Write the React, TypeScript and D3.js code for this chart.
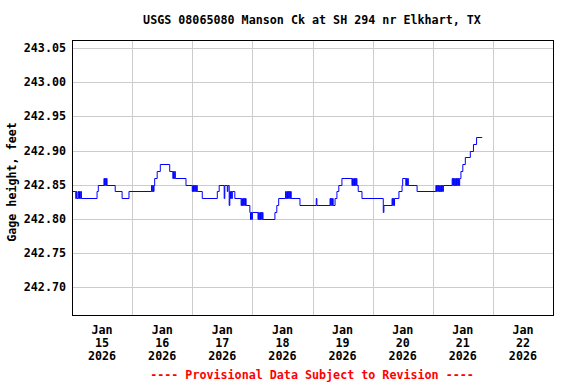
import React from "react";
import * as d3 from "d3";

const TITLE = "USGS 08065080 Manson Ck at SH 294 nr Elkhart, TX";
const Y_LABEL = "Gage height, feet";
const FOOTER = "---- Provisional Data Subject to Revision ----";

// [hours since 2026-01-15 00:00, gage height (ft)] at each change of reading
const readings: [number, number][] = [
  [0, 242.84], [1.5, 242.83], [1.75, 242.84], [2, 242.83], [2.5, 242.84], [2.75, 242.83], [3, 242.84], [3.25, 242.83], [3.5, 242.84], [3.75, 242.83],
  [10, 242.84], [10.5, 242.85], [12.75, 242.86], [13, 242.85], [13.25, 242.86], [13.5, 242.85], [13.75, 242.86], [14, 242.85],
  [17.25, 242.84], [20, 242.83], [22.75, 242.84],
  [31.75, 242.85], [32, 242.84], [32.25, 242.85], [32.5, 242.84], [32.75, 242.85], [33, 242.86], [34, 242.87], [35.25, 242.88],
  [39, 242.87], [40.25, 242.86], [40.5, 242.87], [40.75, 242.86], [41, 242.87], [41.25, 242.86],
  [45.5, 242.85], [48, 242.84], [48.25, 242.85], [48.5, 242.84], [48.75, 242.85], [49, 242.84], [49.25, 242.85], [49.5, 242.84], [49.75, 242.85], [50, 242.84],
  [52, 242.83], [58, 242.84], [58.75, 242.85], [60.75, 242.83], [61, 242.85], [62, 242.84], [62.25, 242.85], [62.75, 242.82],
  [63, 242.84], [63.25, 242.83], [63.5, 242.84], [63.75, 242.83], [64, 242.84],
  [65, 242.83], [67.5, 242.82], [67.75, 242.83], [68, 242.82], [68.25, 242.83], [68.5, 242.82], [68.75, 242.83], [69, 242.82], [69.25, 242.83], [69.5, 242.82],
  [71, 242.81], [71.25, 242.8], [71.5, 242.81], [71.75, 242.8], [72, 242.81],
  [74.25, 242.8], [74.5, 242.81], [74.75, 242.8], [75, 242.81], [75.25, 242.8], [75.5, 242.81], [75.75, 242.8], [76, 242.81], [76.25, 242.8],
  [81, 242.81], [81.75, 242.82], [82.5, 242.83],
  [85.25, 242.84], [85.5, 242.83], [85.75, 242.84], [86, 242.83], [86.25, 242.84], [86.5, 242.83], [86.75, 242.84], [87, 242.83], [87.25, 242.84], [87.5, 242.83],
  [91, 242.82], [97.5, 242.83], [97.75, 242.82],
  [103, 242.83], [103.25, 242.82], [103.5, 242.83], [103.75, 242.82], [104, 242.83], [104.25, 242.82],
  [105, 242.83], [105.75, 242.84], [106.5, 242.85], [107.75, 242.86],
  [111.75, 242.85], [112, 242.86], [112.25, 242.85], [112.5, 242.86], [112.75, 242.85], [113, 242.86], [113.25, 242.85], [113.5, 242.86], [113.75, 242.85],
  [114.25, 242.84], [115.75, 242.83], [124.25, 242.81], [124.5, 242.82],
  [127.75, 242.83], [128, 242.82], [128.25, 242.83], [128.5, 242.82], [128.75, 242.83],
  [130.5, 242.84], [131.75, 242.85], [132, 242.86], [133.25, 242.85], [133.5, 242.86], [133.75, 242.85], [134, 242.86], [134.25, 242.85],
  [137.75, 242.84],
  [145.25, 242.85], [145.5, 242.84], [145.75, 242.85], [146, 242.84], [146.25, 242.85], [146.5, 242.84], [146.75, 242.85], [147, 242.84],
  [147.25, 242.85], [147.5, 242.84], [147.75, 242.85], [148, 242.84], [148.25, 242.85],
  [151.75, 242.86], [152, 242.85], [152.25, 242.86], [152.5, 242.85], [152.75, 242.86], [153, 242.85], [153.25, 242.86], [153.5, 242.85],
  [153.75, 242.86], [154, 242.85], [154.25, 242.86], [154.5, 242.85], [154.75, 242.86],
  [155.25, 242.87], [156, 242.88], [157, 242.89], [159, 242.9], [160.25, 242.91], [161.5, 242.92], [163.75, 242.92],
];

const yTicks = [242.7, 242.75, 242.8, 242.85, 242.9, 242.95, 243.0, 243.05];
const dayLabels = ["Jan|15|2026", "Jan|16|2026", "Jan|17|2026", "Jan|18|2026", "Jan|19|2026", "Jan|20|2026", "Jan|21|2026", "Jan|22|2026"];

const START = Date.UTC(2026, 0, 15);
const END = Date.UTC(2026, 0, 23);
const HOUR = 3600 * 1000;

const W = 576;
const H = 384;
const L = 72;
const R = 553;
const T = 40;
const B = 315;
const FONT = "'DejaVu Sans Mono', 'Liberation Mono', monospace";
const FS = 11.7;

export default function App() {
  const x = d3.scaleUtc().domain([new Date(START), new Date(END)]).range([L, R]);
  const y = d3.scaleLinear().domain([242.659, 243.062]).range([B, T]);
  const data = readings.map(([h, v]) => ({ t: new Date(START + h * HOUR), v }));
  const line = d3
    .line<{ t: Date; v: number }>()
    .x((d) => x(d.t))
    .y((d) => Math.round(y(d.v)) + 0.5)
    .curve(d3.curveStepAfter);
  const days = d3.utcDay.range(new Date(START), new Date(END + 1));

  return (
    <svg width={W} height={H} style={{ position: "absolute", left: 0, top: 0, background: "#fff" }}>
      <rect x={0} y={0} width={W} height={H} fill="#fff" />
      <text x={312} y={24} textAnchor="middle" fontFamily={FONT} fontWeight="bold" fontSize={FS} fill="#000">
        {TITLE}
      </text>
      <g shapeRendering="crispEdges">
        {yTicks.map((v) => (
          <line key={v} x1={L} x2={R} y1={Math.round(y(v)) + 0.5} y2={Math.round(y(v)) + 0.5} stroke="#cccccc" />
        ))}
        {days.slice(1, -1).map((d) => (
          <line key={+d} x1={Math.round(x(d)) + 0.5} x2={Math.round(x(d)) + 0.5} y1={T} y2={B} stroke="#cccccc" />
        ))}
      </g>
      <clipPath id="clip">
        <rect x={L} y={T} width={R - L} height={B - T} />
      </clipPath>
      <path d={line(data) || ""} fill="none" stroke="#0000ff" strokeWidth={1} clipPath="url(#clip)" />
      <rect x={L + 0.5} y={T + 0.5} width={R - L} height={B - T} fill="none" stroke="#000" shapeRendering="crispEdges" />
      {yTicks.map((v) => (
        <text key={v} x={66} y={y(v) + 4} textAnchor="end" fontFamily={FONT} fontWeight="bold" fontSize={FS} fill="#000">
          {v.toFixed(2)}
        </text>
      ))}
      {dayLabels.map((lab, i) => {
        const cx = x(new Date(START + (i * 24 + 12) * HOUR));
        return (
          <text key={lab} x={cx} textAnchor="middle" fontFamily={FONT} fontWeight="bold" fontSize={FS} fill="#000">
            {lab.split("|").map((s, j) => (
              <tspan key={j} x={cx} y={334 + j * 13}>
                {s}
              </tspan>
            ))}
          </text>
        );
      })}
      <text
        transform={`translate(16,${182}) rotate(-90)`}
        textAnchor="middle"
        fontFamily={FONT}
        fontWeight="bold"
        fontSize={FS}
        fill="#000"
      >
        {Y_LABEL}
      </text>
      <text x={312} y={379} textAnchor="middle" fontFamily={FONT} fontWeight="bold" fontSize={FS} fill="#ff0000">
        {FOOTER}
      </text>
    </svg>
  );
}
